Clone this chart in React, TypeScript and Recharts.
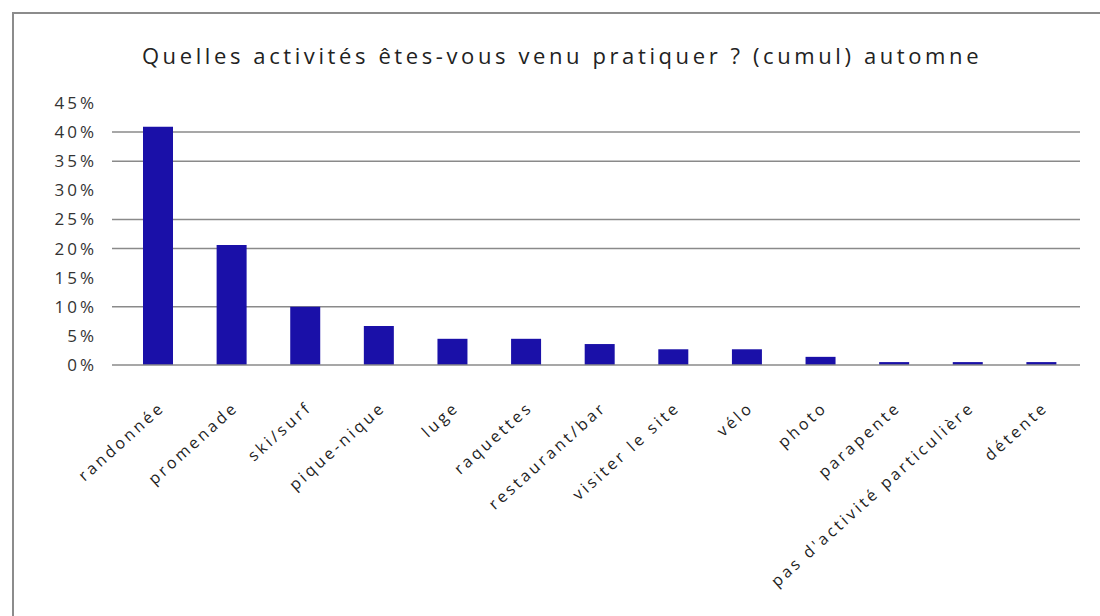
import { BarChart, Bar, XAxis, YAxis, CartesianGrid } from 'recharts'

const activities = [
  'randonnée',
  'promenade',
  'ski/surf',
  'pique-nique',
  'luge',
  'raquettes',
  'restaurant/bar',
  'visiter le site',
  'vélo',
  'photo',
  'parapente',
  "pas d'activité particulière",
  'détente',
]
const shares = [40.9, 20.6, 10.0, 6.7, 4.5, 4.5, 3.6, 2.7, 2.7, 1.4, 0.5, 0.5, 0.5]
const percentTicks = [0, 5, 10, 15, 20, 25, 30, 35, 40, 45]
const gridLevels = [10, 20, 25, 35, 40]

const data = activities.map((name, i) => ({ name, share: shares[i] }))

const FONT = '"Open Sans", "Noto Sans", sans-serif'

function ActivityTick({ x, y, payload }: any) {
  const bx = x + 8
  const by = y + 42
  return (
    <text
      x={bx}
      y={by}
      textAnchor="end"
      transform={`rotate(-42, ${bx}, ${by})`}
      fontSize={16}
      letterSpacing={3}
      fill="#222"
      fontFamily={FONT}
    >
      {payload.value}
    </text>
  )
}

export default function App() {
  return (
    <div style={{ position: 'absolute', left: 0, top: 0, width: 1100, height: 616, background: '#fff' }}>
      <div
        style={{
          position: 'absolute',
          left: 12,
          top: 12,
          width: 1100,
          height: 620,
          borderLeft: '2px solid #8c8c8c',
          borderTop: '2px solid #8c8c8c',
        }}
      />
      <div
        style={{
          position: 'absolute',
          left: 0,
          top: 40,
          width: 1124,
          textAlign: 'center',
          fontFamily: FONT,
          fontSize: 22,
          letterSpacing: 3.6,
          color: '#222',
        }}
      >
        Quelles activités êtes-vous venu pratiquer ? (cumul) automne
      </div>
      <BarChart
        width={1100}
        height={616}
        data={data}
        margin={{ top: 103, right: 20, bottom: 0, left: 0 }}
        style={{ position: 'absolute', left: 0, top: 0 }}
      >
        <CartesianGrid
          vertical={false}
          horizontalValues={gridLevels}
          stroke="#8a8a8a"
          strokeWidth={1.5}
        />
        <XAxis
          dataKey="name"
          interval={0}
          padding={{ left: 9, right: 2 }}
          axisLine={{ stroke: '#8a8a8a', strokeWidth: 1.5 }}
          tickLine={false}
          tickSize={0}
          tick={<ActivityTick />}
          height={251}
        />
        <YAxis
          width={112}
          domain={[0, 45]}
          ticks={percentTicks}
          interval={0}
          axisLine={false}
          tickLine={false}
          tickSize={0}
          tickMargin={15}
          tickFormatter={(v: number) => `${v}%`}
          tick={{ fontSize: 17, fill: '#333', fontFamily: FONT, letterSpacing: 3 }}
        />
        <Bar dataKey="share" fill="#1a10a8" barSize={30} isAnimationActive={false} />
      </BarChart>
    </div>
  )
}
